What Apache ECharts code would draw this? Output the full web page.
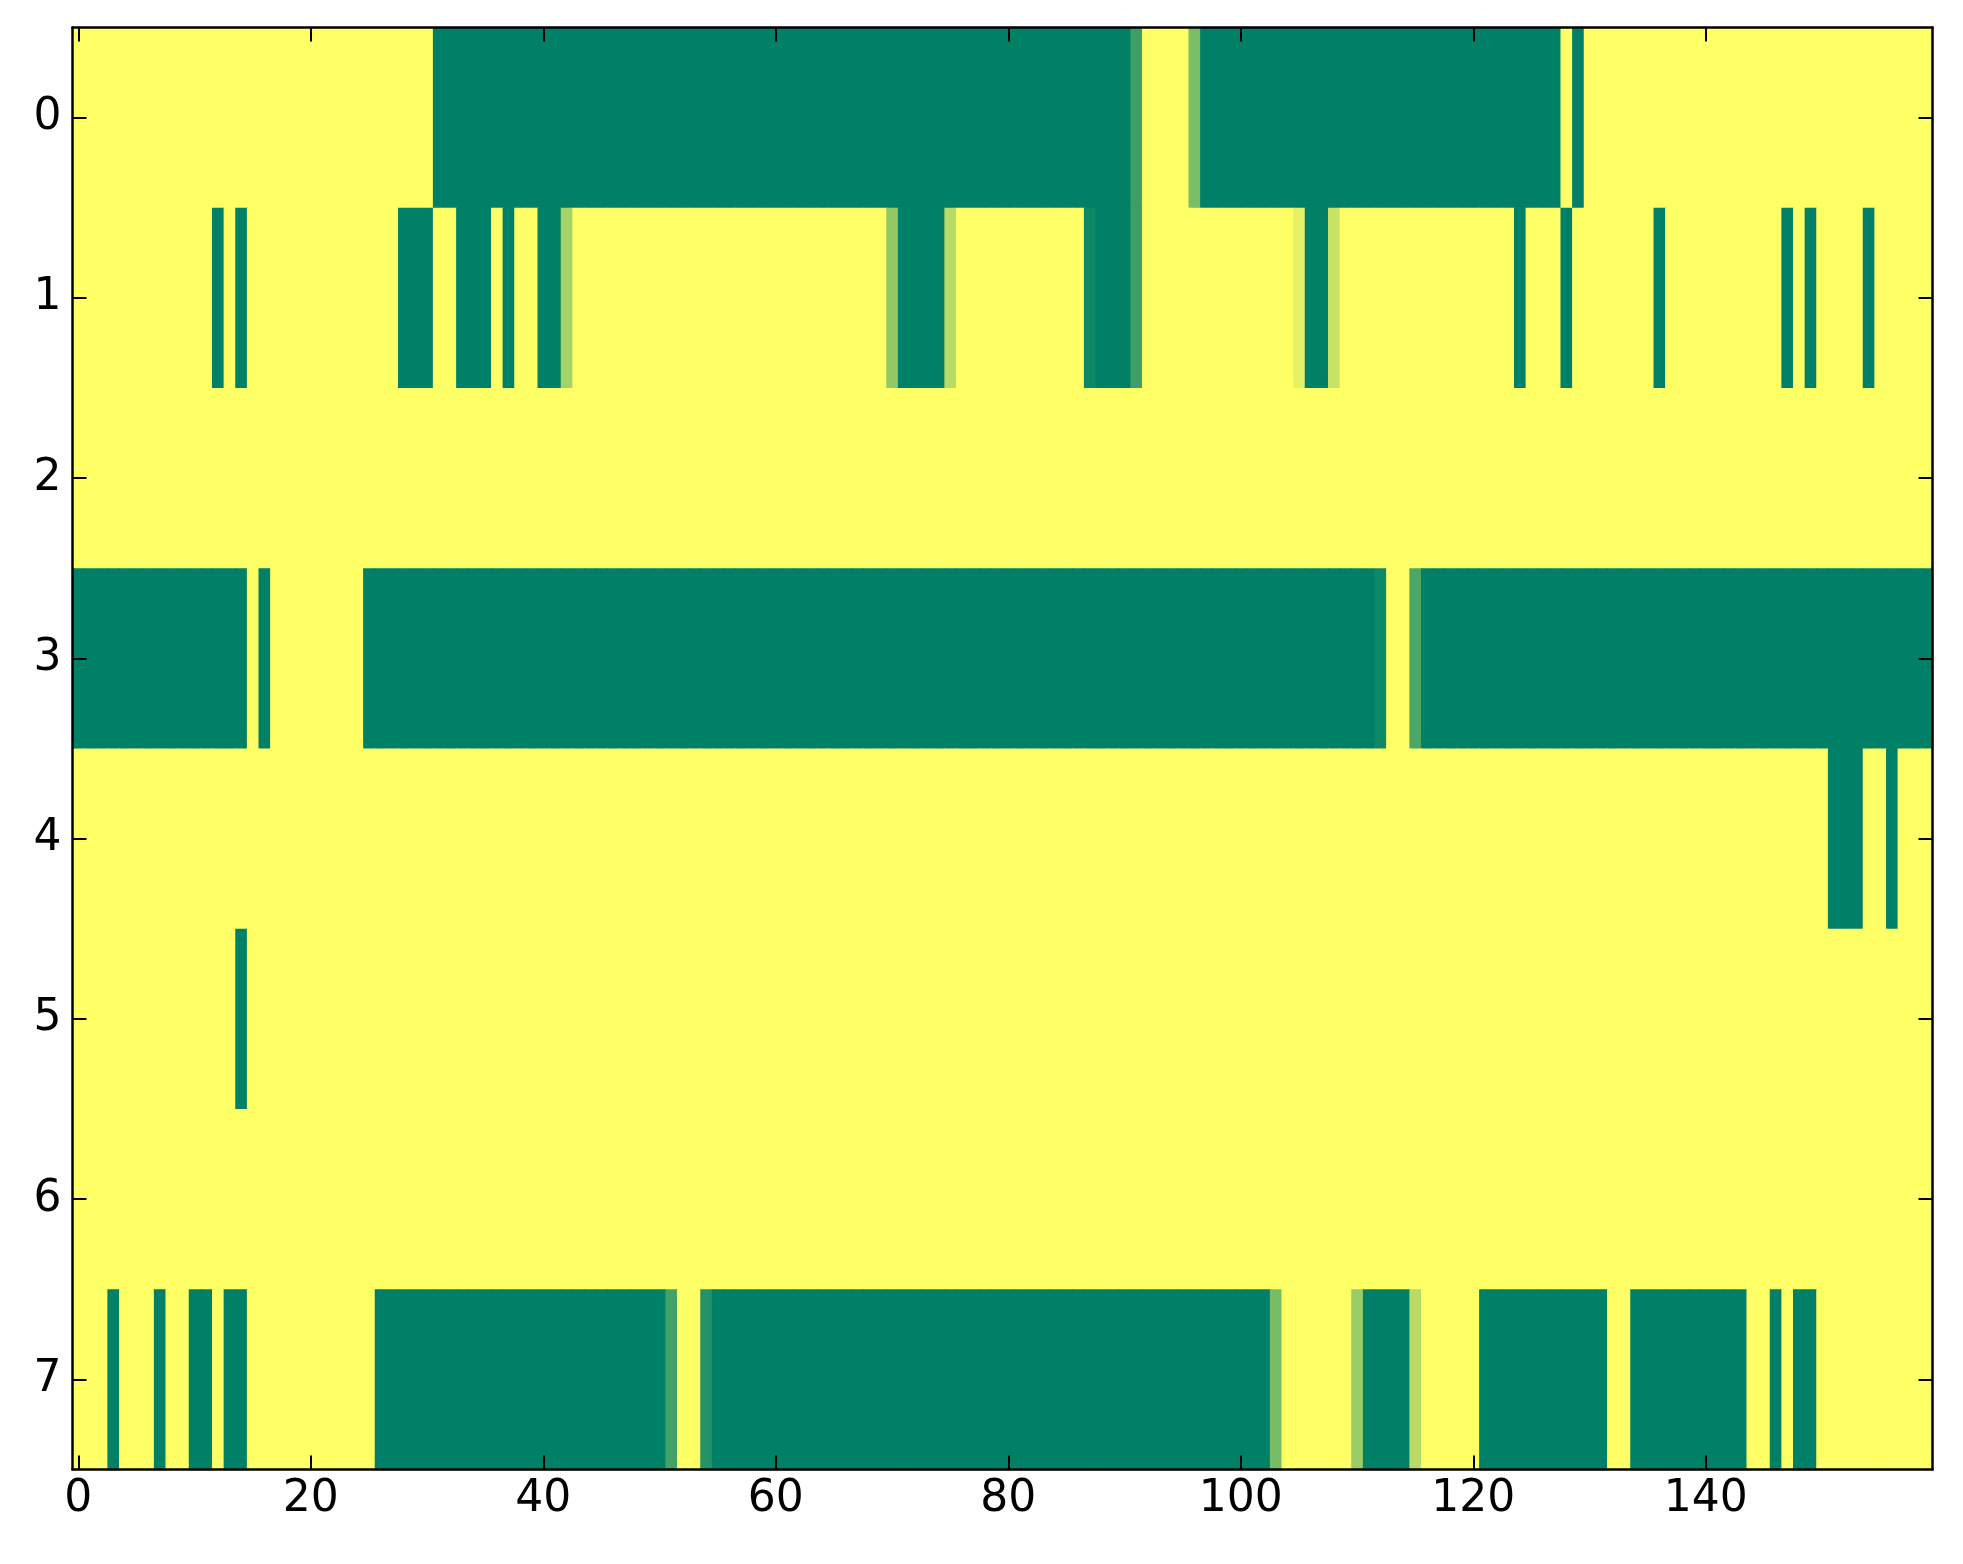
<!DOCTYPE html>
<html>
<head>
<meta charset="utf-8">
<script src="https://cdn.jsdelivr.net/npm/echarts@6/dist/echarts.min.js"></script>
<style>
html,body{margin:0;padding:0;background:#fff;}
#chart{width:1963px;height:1564px;}
</style>
</head>
<body>
<div id="chart"></div>
<script>
// Row categories (y axis, top to bottom)
var rowLabels = ['0','1','2','3','4','5','6','7'];
// x tick labels shown
var xTickValues = [0, 20, 40, 60, 80, 100, 120, 140];

// Cell values per row, 160 columns each (0 = green, 1 = yellow)
var row0 = [
1,1,1,1,1,1,1,1,1,1,1,1,1,1,1,1,1,1,1,1,
1,1,1,1,1,1,1,1,1,1,1,0,0,0,0,0,0,0,0,0,
0,0,0,0,0,0,0,0,0,0,0,0,0,0,0,0,0,0,0,0,
0,0,0,0,0,0,0,0,0,0,0,0,0,0,0,0,0,0,0,0,
0,0,0,0,0,0,0,0,0,0,0,0.24,1,1,1,1,0.48,0,0,0,
0,0,0,0,0,0,0,0,0,0,0,0,0,0,0,0,0,0,0,0,
0,0,0,0,0,0,0,0,1,0,1,1,1,1,1,1,1,1,1,1,
1,1,1,1,1,1,1,1,1,1,1,1,1,1,1,1,1,1,1,1
];
var row1 = [
1,1,1,1,1,1,1,1,1,1,1,1,0,1,0,1,1,1,1,1,
1,1,1,1,1,1,1,1,0,0,0,1,1,0,0,0,1,0,1,1,
0,0,0.65,1,1,1,1,1,1,1,1,1,1,1,1,1,1,1,1,1,
1,1,1,1,1,1,1,1,1,1,0.58,0,0,0,0,0.72,1,1,1,1,
1,1,1,1,1,1,1,0.06,0,0,0,0.24,1,1,1,1,1,1,1,1,
1,1,1,1,1,0.9,0,0,0.78,1,1,1,1,1,1,1,1,1,1,1,
1,1,1,1,0,1,1,1,0,1,1,1,1,1,1,1,0,1,1,1,
1,1,1,1,1,1,1,0,1,0,1,1,1,1,0,1,1,1,1,1
];
var row2 = [
1,1,1,1,1,1,1,1,1,1,1,1,1,1,1,1,1,1,1,1,
1,1,1,1,1,1,1,1,1,1,1,1,1,1,1,1,1,1,1,1,
1,1,1,1,1,1,1,1,1,1,1,1,1,1,1,1,1,1,1,1,
1,1,1,1,1,1,1,1,1,1,1,1,1,1,1,1,1,1,1,1,
1,1,1,1,1,1,1,1,1,1,1,1,1,1,1,1,1,1,1,1,
1,1,1,1,1,1,1,1,1,1,1,1,1,1,1,1,1,1,1,1,
1,1,1,1,1,1,1,1,1,1,1,1,1,1,1,1,1,1,1,1,
1,1,1,1,1,1,1,1,1,1,1,1,1,1,1,1,1,1,1,1
];
var row3 = [
0,0,0,0,0,0,0,0,0,0,0,0,0,0,0,1,0,1,1,1,
1,1,1,1,1,0,0,0,0,0,0,0,0,0,0,0,0,0,0,0,
0,0,0,0,0,0,0,0,0,0,0,0,0,0,0,0,0,0,0,0,
0,0,0,0,0,0,0,0,0,0,0,0,0,0,0,0,0,0,0,0,
0,0,0,0,0,0,0,0,0,0,0,0,0,0,0,0,0,0,0,0,
0,0,0,0,0,0,0,0,0,0,0,0,0.06,1,1,0.3,0,0,0,0,
0,0,0,0,0,0,0,0,0,0,0,0,0,0,0,0,0,0,0,0,
0,0,0,0,0,0,0,0,0,0,0,0,0,0,0,0,0,0,0,0
];
var row4 = [
1,1,1,1,1,1,1,1,1,1,1,1,1,1,1,1,1,1,1,1,
1,1,1,1,1,1,1,1,1,1,1,1,1,1,1,1,1,1,1,1,
1,1,1,1,1,1,1,1,1,1,1,1,1,1,1,1,1,1,1,1,
1,1,1,1,1,1,1,1,1,1,1,1,1,1,1,1,1,1,1,1,
1,1,1,1,1,1,1,1,1,1,1,1,1,1,1,1,1,1,1,1,
1,1,1,1,1,1,1,1,1,1,1,1,1,1,1,1,1,1,1,1,
1,1,1,1,1,1,1,1,1,1,1,1,1,1,1,1,1,1,1,1,
1,1,1,1,1,1,1,1,1,1,1,0,0,0,1,1,0,1,1,1
];
var row5 = [
1,1,1,1,1,1,1,1,1,1,1,1,1,1,0,1,1,1,1,1,
1,1,1,1,1,1,1,1,1,1,1,1,1,1,1,1,1,1,1,1,
1,1,1,1,1,1,1,1,1,1,1,1,1,1,1,1,1,1,1,1,
1,1,1,1,1,1,1,1,1,1,1,1,1,1,1,1,1,1,1,1,
1,1,1,1,1,1,1,1,1,1,1,1,1,1,1,1,1,1,1,1,
1,1,1,1,1,1,1,1,1,1,1,1,1,1,1,1,1,1,1,1,
1,1,1,1,1,1,1,1,1,1,1,1,1,1,1,1,1,1,1,1,
1,1,1,1,1,1,1,1,1,1,1,1,1,1,1,1,1,1,1,1
];
var row6 = [
1,1,1,1,1,1,1,1,1,1,1,1,1,1,1,1,1,1,1,1,
1,1,1,1,1,1,1,1,1,1,1,1,1,1,1,1,1,1,1,1,
1,1,1,1,1,1,1,1,1,1,1,1,1,1,1,1,1,1,1,1,
1,1,1,1,1,1,1,1,1,1,1,1,1,1,1,1,1,1,1,1,
1,1,1,1,1,1,1,1,1,1,1,1,1,1,1,1,1,1,1,1,
1,1,1,1,1,1,1,1,1,1,1,1,1,1,1,1,1,1,1,1,
1,1,1,1,1,1,1,1,1,1,1,1,1,1,1,1,1,1,1,1,
1,1,1,1,1,1,1,1,1,1,1,1,1,1,1,1,1,1,1,1
];
var row7 = [
1,1,1,0,1,1,1,0,1,1,0,0,1,0,0,1,1,1,1,1,
1,1,1,1,1,1,0,0,0,0,0,0,0,0,0,0,0,0,0,0,
0,0,0,0,0,0,0,0,0,0,0,0.26,1,1,0.14,0,0,0,0,0,
0,0,0,0,0,0,0,0,0,0,0,0,0,0,0,0,0,0,0,0,
0,0,0,0,0,0,0,0,0,0,0,0,0,0,0,0,0,0,0,0,
0,0,0,0.47,1,1,1,1,1,1,0.6,0,0,0,0,0.72,1,1,1,1,
1,0,0,0,0,0,0,0,0,0,0,0,1,1,0,0,0,0,0,0,
0,0,0,0,1,1,0,1,0,0,1,1,1,1,1,1,1,1,1,1
];

var rows = [row0, row1, row2, row3, row4, row5, row6, row7];
var colLabels = row0.map(function (v, i) { return String(i); });

var cells = [];
rows.forEach(function (r, ri) {
  r.forEach(function (v, ci) { cells.push([ci, ri, v]); });
});

var FONT = '"DejaVu Sans", "Liberation Sans", sans-serif';
var isXTick = function (idx) { return xTickValues.indexOf(idx) >= 0; };

function xAx(pos, showLabel) {
  return {
    type: 'category', data: colLabels, position: pos, z: 10,
    boundaryGap: true,
    axisLine: { show: true, onZero: false, lineStyle: { color: '#000', width: 2.5 } },
    axisTick: { show: true, inside: true, alignWithLabel: true, interval: isXTick, length: 14, lineStyle: { color: '#000', width: 2 } },
    axisLabel: { show: showLabel, interval: isXTick, margin: 8, color: '#000', fontSize: 44, fontFamily: FONT },
    splitLine: { show: false }
  };
}
function yAx(pos, showLabel) {
  return {
    type: 'category', data: rowLabels, position: pos, inverse: true, z: 10,
    boundaryGap: true,
    axisLine: { show: true, onZero: false, lineStyle: { color: '#000', width: 2.5 } },
    axisTick: { show: true, inside: true, alignWithLabel: true, interval: 0, length: 14, lineStyle: { color: '#000', width: 2 } },
    axisLabel: { show: showLabel, interval: 0, margin: 11, color: '#000', fontSize: 44, fontFamily: FONT },
    splitLine: { show: false }
  };
}

var chart = echarts.init(document.getElementById('chart'), null, { renderer: 'canvas' });
chart.setOption({
  animation: false,
  backgroundColor: '#fff',
  grid: { left: 72.5, top: 27.5, width: 1860, height: 1442, containLabel: false },
  xAxis: [xAx('bottom', true), xAx('top', false)],
  yAxis: [yAx('left', true), yAx('right', false)],
  visualMap: {
    show: false, type: 'continuous', min: 0, max: 1, dimension: 2, seriesIndex: 0,
    inRange: { color: ['#008066', '#ffff66'] }
  },
  series: [{
    type: 'custom', xAxisIndex: 0, yAxisIndex: 0,
    encode: { x: 0, y: 1 },
    data: cells,
    renderItem: function (params, api) {
      var c = api.coord([api.value(0), api.value(1)]);
      var s = api.size([1, 1]);
      return {
        type: 'rect',
        shape: { x: c[0] - s[0] / 2, y: c[1] - s[1] / 2, width: s[0] + 0.8, height: s[1] + 0.8 },
        style: { fill: api.visual('color') }
      };
    },
    silent: true
  }]
});
</script>
</body>
</html>
